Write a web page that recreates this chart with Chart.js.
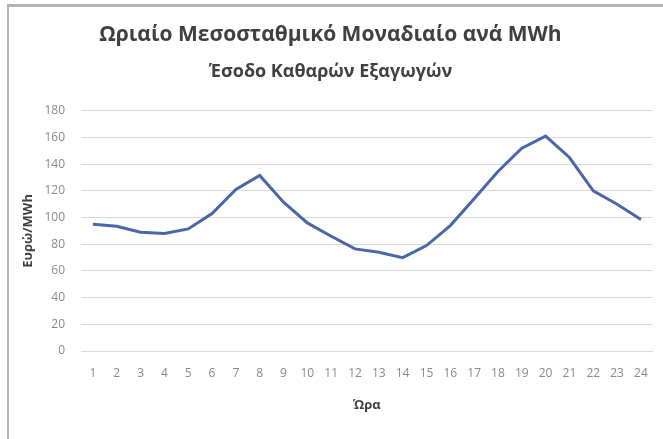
<!DOCTYPE html>
<html>
<head>
<meta charset="utf-8">
<script src="https://cdn.jsdelivr.net/npm/chart.js@4"></script>
<style>
  html,body{margin:0;padding:0;background:#fff}
  #wrap{position:relative;width:663px;height:439px;overflow:hidden}
  #frame{position:absolute;left:7px;top:4px;width:700px;height:460px;border-left:2px solid #b4b4b4;border-top:3px solid #b4b4b4;pointer-events:none}
</style>
</head>
<body>
<div id="wrap">
  <canvas id="chart" width="663" height="439"></canvas>
  <div id="frame"></div>
</div>
<script>
const hours = ["1","2","3","4","5","6","7","8","9","10","11","12","13","14","15","16","17","18","19","20","21","22","23","24"]
const pricePerMWh = [95, 93.5, 89, 88, 91.5, 103, 121, 131.5, 111.5, 96, 86, 76.5, 74, 70, 79, 94, 114, 134.5, 152, 161, 145, 120, 110, 98.5]
const titleLine1 = "Ωριαίο Μεσοσταθμικό Μοναδιαίο ανά MWh"
const titleLine2 = "Έσοδο Καθαρών Εξαγωγών"
const yTitle = "Ευρώ/MWh"
const xTitle = "Ώρα"

const fontFam = "'Open Sans', 'DejaVu Sans', sans-serif"
const tickColor = "#8a8a8a"
const darkText = "#404040"

new Chart(document.getElementById("chart"),{
  type:"line",
  data:{
    labels:hours,
    datasets:[{
      data:pricePerMWh,
      borderColor:"#4a68a8",
      backgroundColor:"#4a68a8",
      borderWidth:3,
      pointRadius:0,
      tension:0,
      fill:false
    }]
  },
  options:{
    responsive:false,
    animation:false,
    layout:{ padding:{ left:8, right:10, top:0, bottom:18 } },
    plugins:{
      legend:{ display:false },
      tooltip:{ enabled:false },
      title:{
        display:true, text:titleLine1, color:darkText,
        font:{ family:fontFam, size:21, weight:"bold" },
        padding:{ top:22, bottom:0 }
      },
      subtitle:{
        display:true, text:titleLine2, color:darkText,
        font:{ family:fontFam, size:18, weight:"bold" },
        padding:{ top:14, bottom:28 }
      }
    },
    scales:{
      x:{
        offset:true,
        grid:{ display:false, drawTicks:false },
        border:{ display:false },
        ticks:{ color:tickColor, padding:15, maxRotation:0, autoSkip:false, font:{ family:fontFam, size:12 } },
        title:{ display:true, text:xTitle, color:darkText, font:{ family:fontFam, size:13, weight:"bold" }, padding:{ top:0, bottom:8 } },
        afterFit(scale){ scale.height = 70 }
      },
      y:{
        min:0, max:180,
        grid:{ color:"#d9d9d9", lineWidth:1, drawTicks:false },
        border:{ display:false },
        ticks:{ stepSize:20, color:tickColor, padding:16, font:{ family:fontFam, size:12 } },
        title:{ display:true, text:yTitle, color:darkText, font:{ family:fontFam, size:13, weight:"bold" }, padding:{ top:12, bottom:0 } },
        afterFit(scale){ scale.width = 73 }
      }
    }
  }
})
</script>
</body>
</html>
